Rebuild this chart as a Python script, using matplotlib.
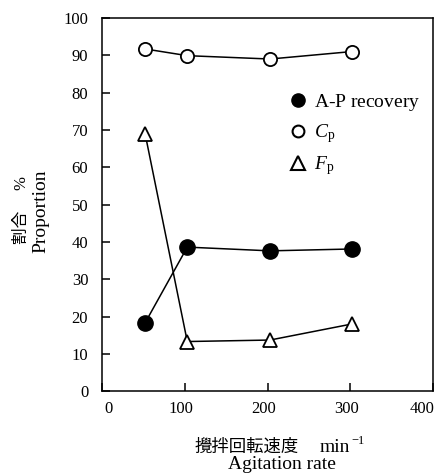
import matplotlib
matplotlib.use("Agg")
import matplotlib.pyplot as plt
from matplotlib.lines import Line2D
from matplotlib.transforms import ScaledTranslation

plt.rcParams['font.family'] = ['Liberation Serif', 'Noto Sans CJK JP']
plt.rcParams['mathtext.fontset'] = 'custom'
plt.rcParams['mathtext.rm'] = 'Liberation Serif'
plt.rcParams['mathtext.it'] = 'Liberation Serif:italic'

# Agitation rate (min^-1) and proportions (%)
rate = [52, 103, 203, 302]
ap_recovery = [18.3, 38.6, 37.6, 38.1]
cp = [91.7, 89.9, 89.0, 91.0]
fp = [69.0, 13.3, 13.7, 18.0]

fig = plt.figure(figsize=(4.4, 4.73), dpi=100)
ax = fig.add_axes([0.232, 0.173, 0.752, 0.789])

ax.plot(rate, cp, color='black', lw=1.1, marker='o', ms=9.5,
        mfc='white', mec='black', mew=1.3)
ax.plot(rate, fp, color='black', lw=1.1, marker='^', ms=10.5,
        mfc='white', mec='black', mew=1.3)
ax.plot(rate, ap_recovery, color='black', lw=1.1, marker='o', ms=11,
        mfc='black', mec='black')

ax.set_xlim(0, 400)
ax.set_ylim(0, 100)
ax.set_xticks(range(0, 401, 100))
ax.set_yticks(range(0, 101, 10))
ax.tick_params(direction='in', length=6, width=1.1, labelsize=12)
ax.tick_params(axis='y', pad=10)
ax.tick_params(axis='x', pad=7)
for s in ax.spines.values():
    s.set_linewidth(1.1)

# nudge the x tick labels; "400" has to stay inside the figure
shifts = [4.5, -2.5, -2.5, -2.5, -7.5]
for lab, dx in zip(ax.get_xticklabels(), shifts):
    lab.set_transform(lab.get_transform() + ScaledTranslation(dx / 72, 0, fig.dpi_scale_trans))

handles = [
    Line2D([], [], ls='none', marker='o', ms=9.5, mfc='black', mec='black'),
    Line2D([], [], ls='none', marker='o', ms=8.5, mfc='white', mec='black', mew=1.5),
    Line2D([], [], ls='none', marker='^', ms=9.5, mfc='white', mec='black', mew=1.5),
]
labels = [r'$\mathrm{A‐P\ recovery}$', r'$C_{\mathrm{p}}$', r'$F_{\mathrm{p}}$']
ax.legend(handles, labels, loc='upper left', bbox_to_anchor=(0.57, 0.802),
          frameon=False, fontsize=14, handlelength=0.8, handletextpad=0.4,
          labelspacing=0.48, borderpad=0, borderaxespad=0)

# axis titles, Japanese over English
fig.text(0.05, 0.484, '割合\u3000 %', rotation=90, ha='center', va='bottom', fontsize=12)
fig.text(0.093, 0.465, 'Proportion', rotation=90, ha='center', va='bottom', fontsize=14)
fig.text(0.678, 0.044, '攪拌回転速度', ha='right', va='baseline', fontsize=12.5)
fig.text(0.727, 0.044, 'min', ha='left', va='baseline', fontsize=14)
fig.text(0.798, 0.061, '\u22121', ha='left', va='baseline', fontsize=9)
fig.text(0.64, 0.009, 'Agitation rate', ha='center', va='baseline', fontsize=14)

fig.savefig('out.png', dpi=100)
